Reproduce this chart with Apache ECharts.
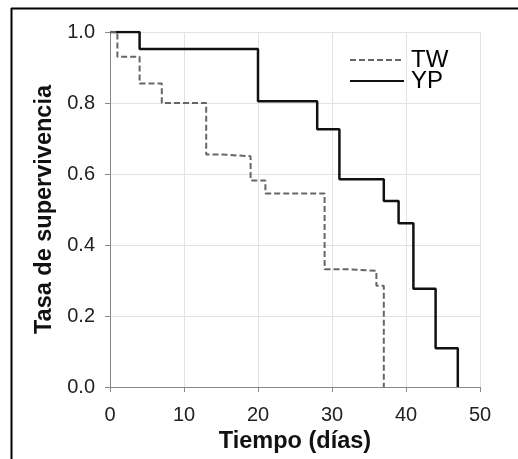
<!DOCTYPE html>
<html>
<head>
<meta charset="utf-8">
<script src="https://cdn.jsdelivr.net/npm/echarts@6/dist/echarts.min.js"></script>
<style>
html,body{margin:0;padding:0;background:#fff;}
#c{width:518px;height:459px;}
</style>
</head>
<body>
<div id="c"></div>
<script>
const seriesNames = ['TW', 'YP'];
const twTimes = [0, 1, 4, 7, 13, 15, 19, 21, 29, 32, 36, 37];
const twSurv  = [1.0, 0.93, 0.855, 0.80, 0.655, 0.65, 0.582, 0.545, 0.332, 0.327, 0.285, 0.0];
const ypTimes = [0, 4, 20, 28, 31, 37, 39, 41, 44, 47];
const ypSurv  = [1.0, 0.952, 0.805, 0.726, 0.585, 0.524, 0.461, 0.277, 0.109, 0.0];
const xTicks = [0, 10, 20, 30, 40, 50];
const yTicks = [0.0, 0.2, 0.4, 0.6, 0.8, 1.0];

const font = '"Liberation Sans", Arial, sans-serif';
const pair = (t, s) => t.map((v, i) => [v, s[i]]);

const legendCommon = {left: 349, orient: 'vertical', itemWidth: 54, itemHeight: 14, padding: 0,
  itemGap: 0, itemStyle: {opacity: 0},
  textStyle: {fontFamily: font, fontSize: 24, color: '#000', padding: [0, 0, 0, 2]}};

const chart = echarts.init(document.getElementById('c'), null, {renderer: 'canvas'});
chart.setOption({
  animation: false,
  backgroundColor: '#fff',
  grid: {left: 110, top: 32, width: 370, height: 355, containLabel: false},
  xAxis: {
    type: 'value', min: xTicks[0], max: xTicks[xTicks.length - 1], interval: 10,
    name: 'Tiempo (días)', nameLocation: 'middle', nameGap: 42,
    nameTextStyle: {fontFamily: font, fontSize: 23.5, fontWeight: 'bold', color: '#111'},
    axisLine: {show: true, lineStyle: {color: '#888', width: 1}},
    axisTick: {show: true, length: 5, lineStyle: {color: '#888'}},
    axisLabel: {fontFamily: font, fontSize: 20, color: '#222', margin: 18},
    splitLine: {show: true, lineStyle: {color: '#e2e2e2', width: 1}}
  },
  yAxis: {
    type: 'value', min: yTicks[0], max: yTicks[yTicks.length - 1], interval: 0.2,
    name: 'Tasa de supervivencia', nameLocation: 'middle', nameGap: 53,
    nameTextStyle: {fontFamily: font, fontSize: 23.5, fontWeight: 'bold', color: '#111'},
    axisLine: {show: true, lineStyle: {color: '#888', width: 1}},
    axisTick: {show: true, length: 5, lineStyle: {color: '#888'}},
    axisLabel: {fontFamily: font, fontSize: 20, color: '#222', margin: 15,
      formatter: v => v.toFixed(1)},
    splitLine: {show: true, lineStyle: {color: '#e2e2e2', width: 1}}
  },
  legend: [
    Object.assign({data: [seriesNames[0]], top: 48}, legendCommon),
    Object.assign({data: [seriesNames[1]], top: 69}, legendCommon)
  ],
  series: [
    {name: seriesNames[0], type: 'line', step: 'end', symbol: 'none', data: pair(twTimes, twSurv),
     lineStyle: {color: '#666', width: 2, type: [6, 3]}, itemStyle: {color: '#666'}, z: 3},
    {name: seriesNames[1], type: 'line', step: 'end', symbol: 'none', data: pair(ypTimes, ypSurv),
     lineStyle: {color: '#111', width: 2.5, type: 'solid'}, itemStyle: {color: '#111'}, z: 2}
  ],
  graphic: [
    {type: 'line', shape: {x1: 11.5, y1: 8, x2: 11.5, y2: 459}, style: {stroke: '#000', lineWidth: 2}},
    {type: 'line', shape: {x1: 11, y1: 8.5, x2: 518, y2: 8.5}, style: {stroke: '#000', lineWidth: 2}}
  ]
});
</script>
</body>
</html>
